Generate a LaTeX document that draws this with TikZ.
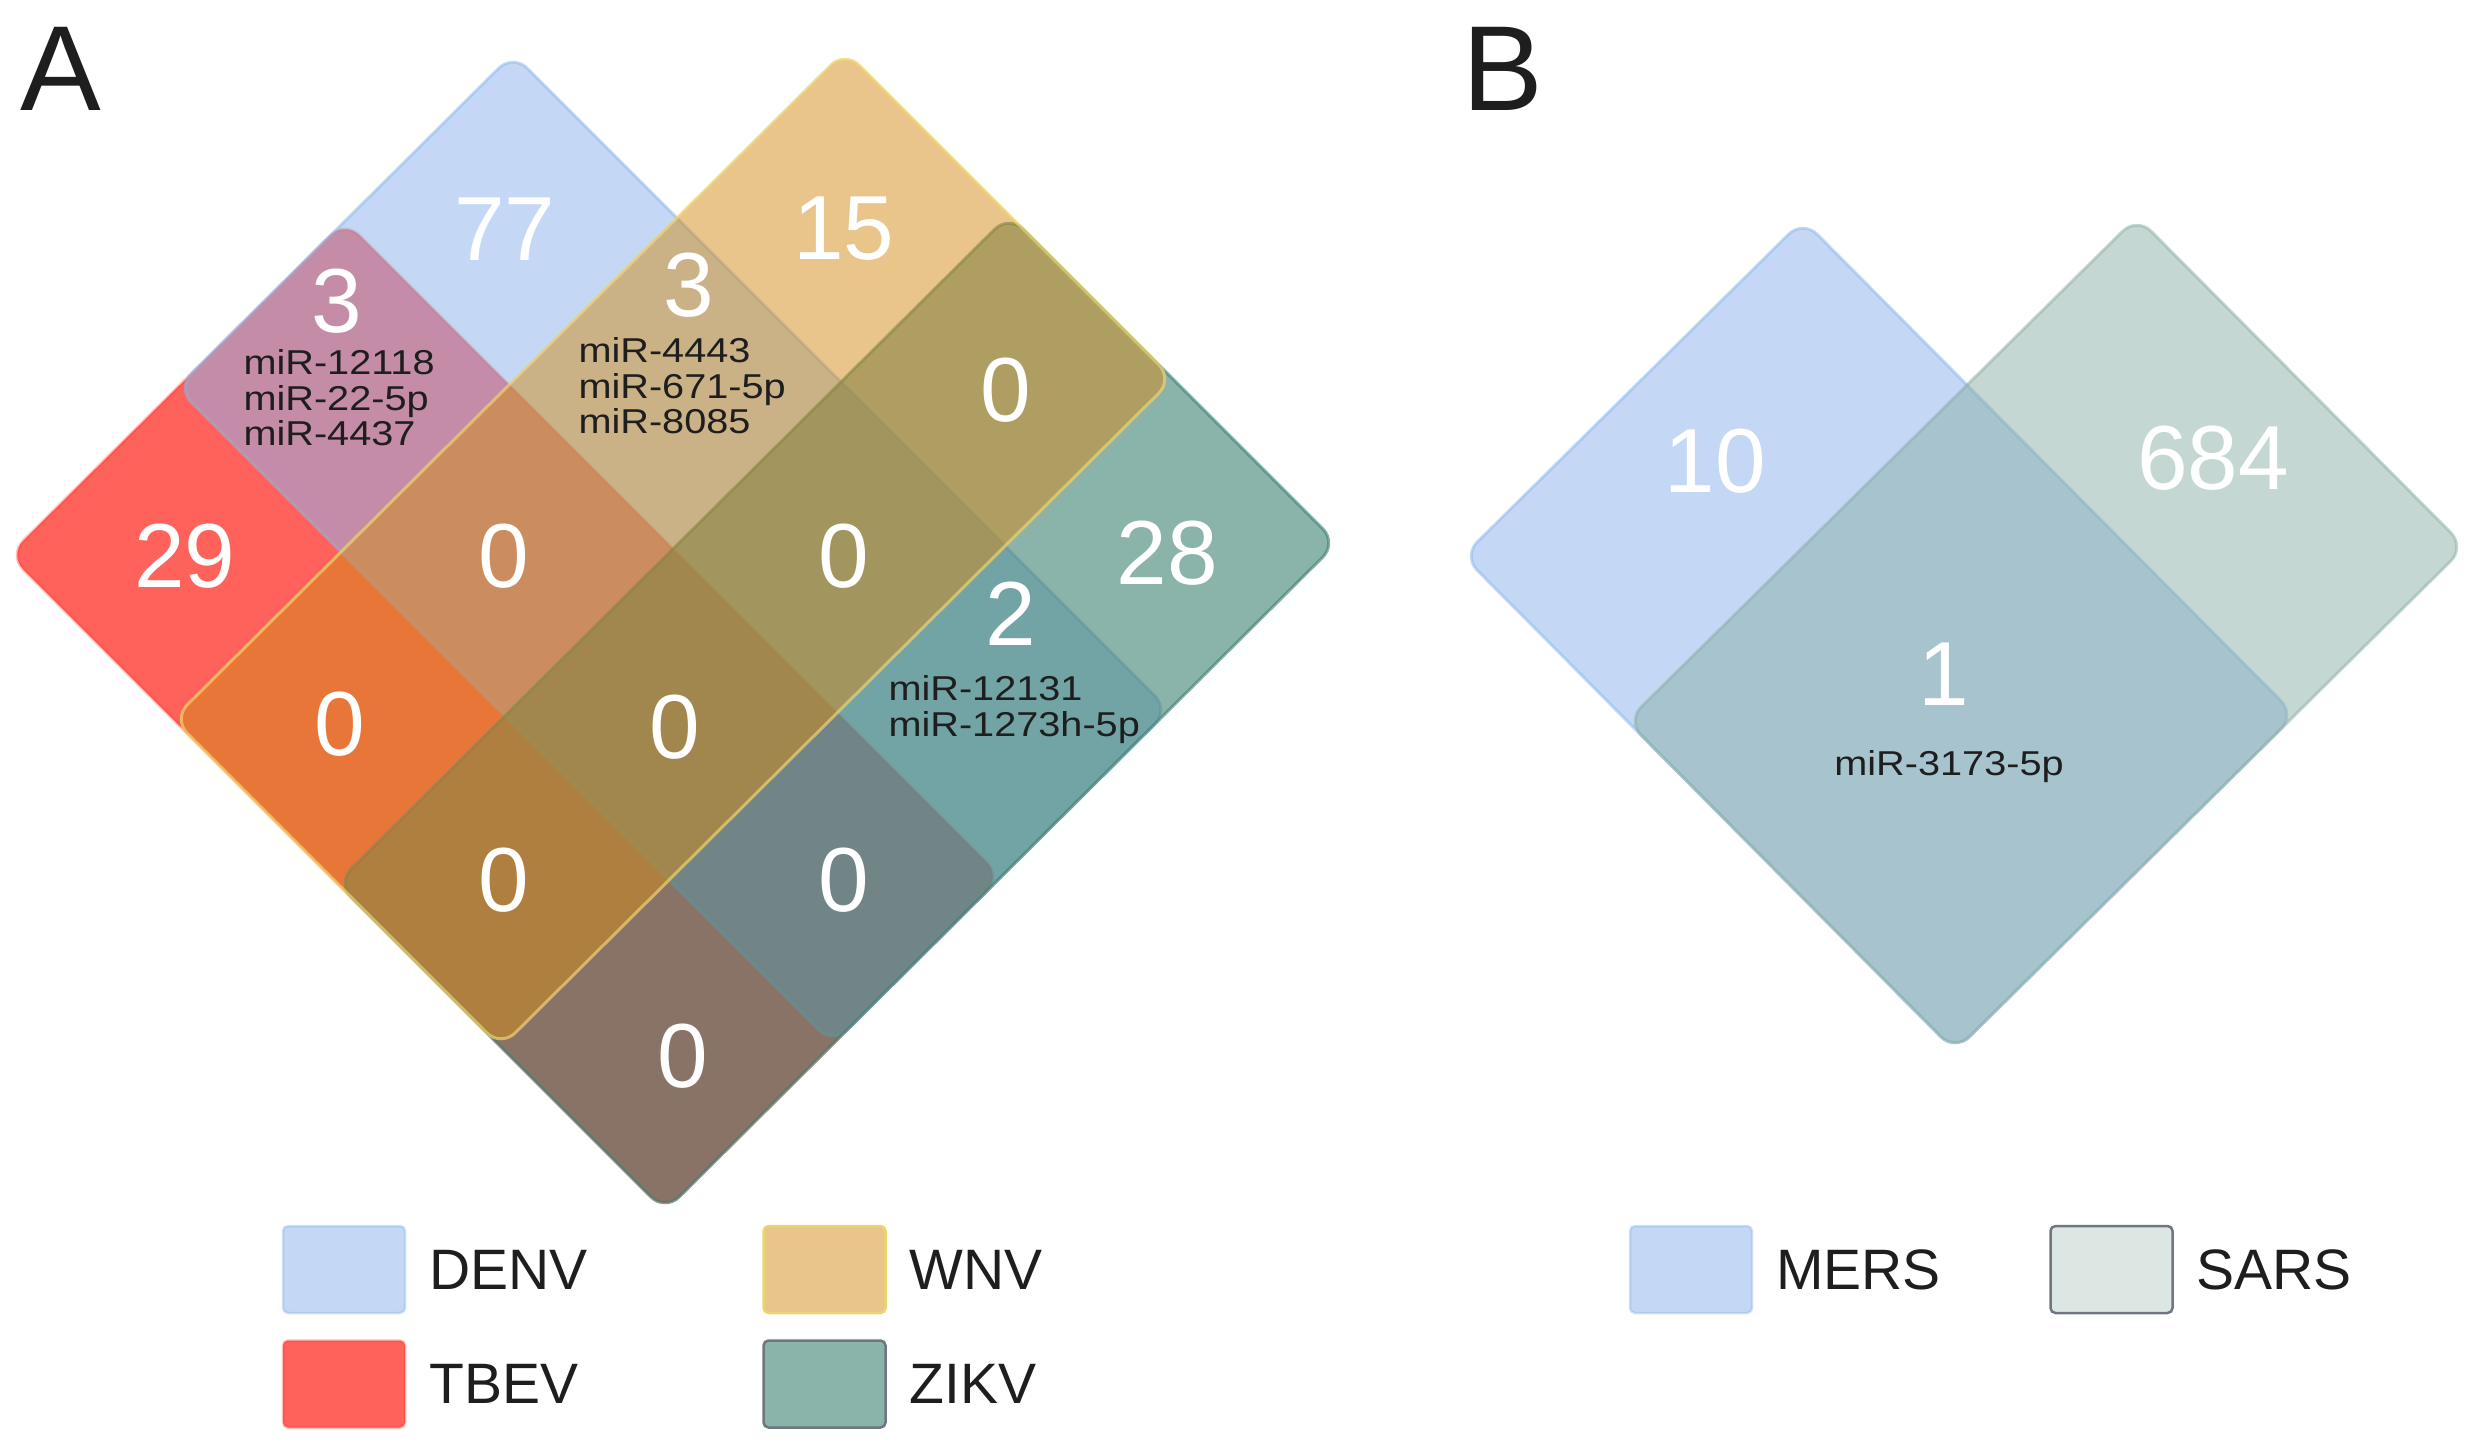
\documentclass[tikz,border=0pt]{standalone}
\usepackage{fontspec}
\usepackage{xcolor}
\usetikzlibrary{positioning}
\setmainfont{Liberation Sans}
\newfontfamily\mirfont[FakeStretch=1.15]{Liberation Sans}

\definecolor{denv}{RGB}{141,180,236}
\definecolor{wnv}{RGB}{211,139,25}
\definecolor{wnvedge}{RGB}{236,212,110}
\definecolor{tbev}{RGB}{255,43,32}
\definecolor{zikv}{RGB}{60,128,112}
\definecolor{sars}{RGB}{139,175,165}
\definecolor{keygrey}{RGB}{112,118,128}
\definecolor{txtdark}{RGB}{30,30,30}

\tikzset{
  setbox/.style={rounded corners=8pt, line width=1.2pt},
  tbevset/.style={setbox, fill=tbev, draw=tbev, fill opacity=0.74, draw opacity=0.3},
  denvset/.style={setbox, fill=denv, draw=denv, fill opacity=0.52, draw opacity=0.5},
  zikvset/.style={setbox, fill=zikv, draw=zikv, fill opacity=0.6, draw opacity=0.6},
  wnvset/.style={setbox, fill=wnv, draw=wnvedge, fill opacity=0.5, draw opacity=0.7},
  mersset/.style={setbox, fill=denv, draw=denv, fill opacity=0.52, draw opacity=0.5},
  sarsset/.style={setbox, fill=sars, draw=sars, fill opacity=0.5, draw opacity=0.5},
  key/.style={minimum width=48.8pt, minimum height=34.8pt, inner sep=0pt, rounded corners=2pt, line width=1pt},
  count/.style={text=white, inner sep=0pt, font=\fontsize{36.4}{40}\selectfont},
  mirs/.style={text=txtdark, inner sep=0pt, anchor=north west, align=left, font=\mirfont\fontsize{13.8}{14.2}\selectfont},
  keytext/.style={text=txtdark, inner sep=0pt, anchor=west, font=\fontsize{22.8}{26}\selectfont},
  panel/.style={text=txtdark, inner sep=0pt, anchor=base west, font=\fontsize{48.4}{52}\selectfont}
}

\begin{document}
\begin{tikzpicture}[x=0.4pt,y=-0.4pt]
\useasboundingbox (0,0) rectangle (2478,1452);

%Panel A: the four sets, in a skewed frame (x up-left, y up-right)
\begin{scope}[shift={(665,1211)}, x={(-65.6pt,65.6pt)}, y={(67.2pt,66.8pt)}]
%Shape: TBEV
\draw[tbevset] (0,0) -- (4,0) -- (4,2) -- (0,2) -- cycle;
%Shape: DENV
\draw[denvset] (0,1) -- (4,1) -- (4,3) -- (0,3) -- cycle;
%Shape: ZIKV
\draw[zikvset] (0,0) -- (2,0) -- (2,4) -- (0,4) -- cycle;
%Shape: WNV
\draw[wnvset] (1,0) -- (3,0) -- (3,4) -- (1,4) -- cycle;
\end{scope}

%Panel B: the two sets
\begin{scope}[shift={(1955,1051)}, x={(-65.6pt,66pt)}, y={(68pt,67.2pt)}]
%Shape: MERS
\draw[mersset] (0,0) -- (3,0) -- (3,2) -- (0,2) -- cycle;
%Shape: SARS
\draw[sarsset] (0,0) -- (2,0) -- (2,3) -- (0,3) -- cycle;
\end{scope}

% Text Node
\node[panel] (pa) at (20,111) {A};
\node[panel] (pb) at (1462,111) {B};

% Text Node
\node[count] (n77) at (505,229) {77};
\node[count] (n15) at (844,229) {15};
\node[count] (n3dt) at (337,301) {3};
\node[mirs] (m3dt) at (243,349) {miR-12118\\miR-22-5p\\miR-4437};
\node[count] (n3dw) at (689,285) {3};
\node[mirs] (m3dw) at (578,337) {miR-4443\\miR-671-5p\\miR-8085};
\node[count] (n0wz) at (1006,390) {0};
\node[count] (n29) at (185,556) {29};
\node[count] (n0dwt) at (504,556) {0};
\node[count] (n0dwz) at (844,556) {0};
\node[count] (n28) at (1167,553) {28};
\node[count] (n2) at (1011,614) {2};
\node[mirs] (m2) at (888,675) {miR-12131\\miR-1273h-5p};
\node[count] (n0wt) at (340,724) {0};
\node[count] (n0all) at (675,727) {0};
\node[count] (n0wtz) at (504,880) {0};
\node[count] (n0dtz) at (844,880) {0};
\node[count] (n0tz) at (683,1056) {0};

% Text Node
\node[count] (n10) at (1715,461) {10};
\node[count] (n684) at (2213,458) {684};
\node[count] (n1) at (1944,674) {1};
\node[mirs, anchor=north] (m1) at (1949,750) {miR-3173-5p};

%Legend A
\node[key, fill=denv, fill opacity=0.52, draw=denv, draw opacity=0.4] (kdenv) at (344,1269.5) {};
\node[keytext, right=9pt of kdenv] (ldenv) {DENV};
\node[key, fill=wnv, fill opacity=0.5, draw=wnvedge] (kwnv) at (824.5,1269.5) {};
\node[keytext, right=9pt of kwnv] (lwnv) {WNV};
\node[key, fill=tbev, fill opacity=0.74, draw=tbev, draw opacity=0.3] (ktbev) at (344,1384) {};
\node[keytext, right=9pt of ktbev] (ltbev) {TBEV};
\node[key, fill=zikv, fill opacity=0.6, draw=keygrey] (kzikv) at (824.5,1384) {};
\node[keytext, right=9pt of kzikv] (lzikv) {ZIKV};

%Legend B
\node[key, fill=denv, fill opacity=0.52, draw=denv, draw opacity=0.4] (kmers) at (1691,1269.5) {};
\node[keytext, right=9pt of kmers] (lmers) {MERS};
\node[key, fill=sars, fill opacity=0.3, draw=keygrey] (ksars) at (2111.5,1269.5) {};
\node[keytext, right=9pt of ksars] (lsars) {SARS};
\end{tikzpicture}
\end{document}
